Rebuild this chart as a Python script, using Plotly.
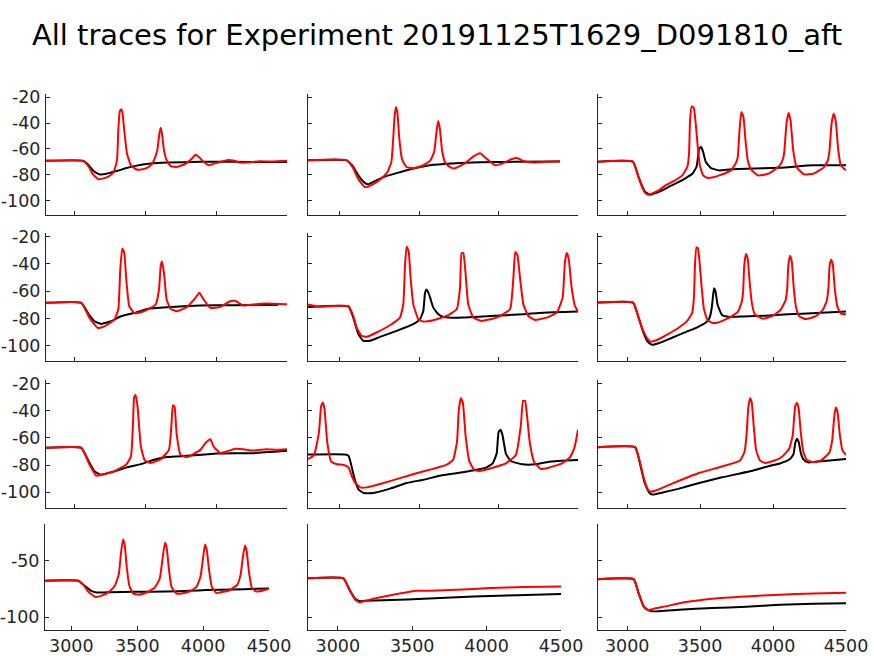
import plotly.graph_objects as go

TITLE = "All traces for Experiment 20191125T1629_D091810_aft"
X_TICKS = [3000, 3500, 4000, 4500]
X_TICK_TEXT = ["3000", "3500", "4000", "4500"]
Y_TICKS_MAIN = [-100, -80, -60, -40, -20]
Y_TICK_TEXT_MAIN = ["-100", "-80", "-60", "-40", "-20"]
Y_TICKS_LAST = [-100, -50]
Y_TICK_TEXT_LAST = ["-100", "-50"]
X_RANGE = [2800, 4500]
Y_RANGE = [-111.2, -17.4]

# ---------------- data (time ms, membrane potential mV) ----------------
r1c1_black_t = [2800, 3060, 3100, 3140, 3180, 3220, 3260, 3306, 3360, 3422, 3539, 3655, 3889, 4122, 4300, 4500]
r1c1_black_v = [-69.2, -69.2, -72.5, -77.5, -79.8, -79.5, -78.2, -76.9, -75.0, -73.3, -71.3, -70.5, -70.0, -70.0, -70.2, -70.2]
r1c1_red_t = [2800, 3060, 3100, 3130, 3168, 3200, 3236, 3270, 3282, 3301, 3310, 3320, 3329, 3338, 3352, 3371, 3399, 3434, 3469, 3516, 3545, 3562, 3585, 3600, 3609, 3618, 3632, 3651, 3679, 3725, 3784, 3830, 3854, 3877, 3912, 3947, 4005, 4075, 4122, 4168, 4220, 4309, 4400, 4500]
r1c1_red_v = [-69.2, -69.2, -73.5, -79.5, -83.4, -83.0, -81.6, -79.0, -76.4, -68.7, -45.4, -31.1, -29.3, -31.1, -45.4, -63.5, -72.6, -75.7, -76.0, -74.5, -72.0, -68.7, -60.9, -48.0, -43.6, -48.0, -60.9, -68.7, -73.3, -73.9, -71.5, -67.4, -64.5, -66.0, -70.0, -72.6, -70.8, -68.7, -69.0, -70.5, -70.5, -69.5, -69.8, -69.2]

r1c2_black_t = [2800, 3040, 3080, 3120, 3160, 3178, 3220, 3280, 3379, 3470, 3568, 3700, 3883, 4100, 4387]
r1c2_black_v = [-68.7, -68.7, -73.0, -81.0, -86.5, -87.4, -85.0, -81.5, -78.0, -75.0, -72.6, -71.2, -70.3, -70.0, -69.8]
r1c2_red_t = [2800, 3040, 3080, 3120, 3159, 3200, 3260, 3300, 3325, 3335, 3345, 3354, 3363, 3375, 3392, 3420, 3461, 3520, 3570, 3595, 3608, 3619, 3630, 3645, 3665, 3700, 3726, 3790, 3840, 3883, 3920, 3978, 4030, 4080, 4116, 4160, 4220, 4300, 4387]
r1c2_red_v = [-68.7, -68.7, -74.0, -84.0, -89.6, -88.0, -83.0, -78.0, -70.0, -55.0, -35.0, -27.5, -32.0, -52.0, -68.0, -74.0, -75.0, -73.0, -69.0, -62.0, -48.0, -38.4, -44.0, -62.0, -71.0, -74.5, -75.0, -71.0, -66.0, -63.3, -67.0, -72.6, -71.0, -68.0, -67.0, -69.5, -70.5, -70.0, -69.5]

r1c3_black_t = [2800, 3039, 3078, 3100, 3124, 3159, 3200, 3240, 3300, 3355, 3410, 3447, 3475, 3486, 3493, 3507, 3521, 3539, 3574, 3631, 3700, 3816, 4046, 4276, 4500]
r1c3_black_v = [-69.9, -69.9, -81.8, -88.0, -93.4, -95.5, -94.0, -92.0, -88.5, -85.6, -82.0, -79.2, -74.0, -66.0, -59.8, -58.5, -62.4, -70.1, -74.8, -76.6, -76.0, -75.3, -74.5, -72.7, -72.7]
r1c3_red_t = [2800, 3039, 3078, 3100, 3124, 3147, 3180, 3217, 3260, 3309, 3378, 3412, 3424, 3431, 3442, 3456, 3470, 3484, 3498, 3521, 3551, 3590, 3631, 3712, 3745, 3758, 3770, 3783, 3797, 3811, 3827, 3850, 3896, 3940, 3977, 4046, 4070, 4078, 4092, 4106, 4120, 4138, 4161, 4212, 4276, 4346, 4375, 4387, 4401, 4415, 4429, 4447, 4465, 4500]
r1c3_red_v = [-69.9, -69.9, -81.8, -89.0, -94.2, -95.5, -94.0, -92.1, -88.5, -85.6, -80.5, -74.0, -63.7, -37.8, -27.0, -28.0, -40.4, -58.5, -72.7, -80.5, -82.5, -82.0, -80.5, -76.6, -71.0, -66.3, -45.6, -31.4, -35.2, -53.3, -68.8, -76.1, -80.5, -80.0, -78.7, -72.7, -67.0, -61.1, -40.4, -32.1, -37.8, -61.1, -74.0, -79.7, -79.2, -74.5, -69.0, -61.1, -40.4, -32.7, -37.8, -61.1, -72.7, -76.6]

r2c1_black_t = [2800, 3049, 3096, 3142, 3189, 3259, 3329, 3422, 3516, 3655, 3889, 4122, 4437]
r2c1_black_v = [-68.6, -68.6, -76.0, -82.1, -84.0, -82.1, -78.4, -76.0, -73.0, -71.8, -70.6, -70.3, -70.1]
r2c1_red_t = [2800, 3049, 3107, 3166, 3212, 3282, 3310, 3324, 3338, 3352, 3366, 3387, 3422, 3469, 3516, 3574, 3597, 3609, 3618, 3632, 3651, 3679, 3725, 3795, 3854, 3882, 3912, 3959, 4029, 4099, 4134, 4192, 4262, 4355, 4500]
r2c1_red_v = [-68.6, -68.6, -79.6, -87.0, -85.8, -80.9, -73.5, -44.0, -28.8, -31.8, -51.4, -71.0, -76.0, -75.5, -73.5, -69.8, -58.8, -41.6, -38.2, -46.5, -66.1, -73.0, -74.7, -71.5, -64.9, -61.2, -66.1, -72.3, -71.5, -67.4, -67.1, -70.6, -69.8, -69.1, -69.6]

r2c2_black_t = [2800, 3054, 3085, 3117, 3148, 3190, 3253, 3358, 3463, 3505, 3526, 3537, 3547, 3564, 3589, 3621, 3652, 3778, 3946, 4156, 4282, 4500]
r2c2_black_v = [-71.6, -71.2, -79.4, -91.5, -96.4, -96.4, -93.5, -89.1, -84.2, -80.6, -74.5, -61.2, -58.8, -62.9, -72.1, -77.0, -78.9, -79.4, -78.2, -77.0, -75.8, -75.0]
r2c2_red_t = [2800, 2875, 2950, 3054, 3085, 3106, 3138, 3169, 3232, 3316, 3379, 3400, 3411, 3421, 3434, 3446, 3463, 3495, 3526, 3589, 3673, 3736, 3757, 3767, 3778, 3791, 3809, 3841, 3893, 3988, 4072, 4093, 4105, 4118, 4135, 4156, 4187, 4229, 4303, 4366, 4403, 4418, 4429, 4441, 4460, 4481, 4500]
r2c2_red_v = [-69.7, -71.4, -71.0, -71.0, -78.2, -86.7, -92.7, -93.5, -90.3, -85.0, -79.4, -69.7, -40.6, -27.3, -30.9, -50.3, -69.7, -80.6, -82.3, -81.3, -78.2, -73.3, -57.6, -32.1, -32.1, -45.5, -69.7, -79.4, -81.8, -79.4, -73.3, -50.3, -31.4, -33.3, -50.3, -69.7, -78.2, -81.1, -79.4, -75.8, -64.8, -38.2, -32.1, -35.8, -57.6, -70.9, -75.0]

r2c3_black_t = [2800, 3040, 3080, 3110, 3140, 3170, 3220, 3300, 3400, 3480, 3540, 3565, 3580, 3590, 3596, 3605, 3620, 3650, 3700, 3800, 3950, 4100, 4300, 4500]
r2c3_black_v = [-68.4, -68.4, -80.0, -90.0, -97.0, -99.3, -98.0, -94.5, -90.0, -86.5, -83.0, -79.5, -72.0, -62.0, -57.9, -60.0, -70.0, -77.5, -79.0, -78.5, -78.0, -77.0, -76.0, -75.0]
r2c3_red_t = [2800, 3040, 3080, 3110, 3140, 3163, 3200, 3280, 3350, 3410, 3445, 3458, 3465, 3475, 3485, 3498, 3512, 3526, 3550, 3585, 3622, 3700, 3760, 3785, 3795, 3802, 3814, 3826, 3840, 3855, 3875, 3931, 3990, 4050, 4085, 4097, 4104, 4116, 4128, 4142, 4158, 4180, 4226, 4290, 4340, 4368, 4380, 4387, 4397, 4409, 4423, 4440, 4465, 4500]
r2c3_red_v = [-68.4, -68.4, -80.0, -89.0, -95.0, -97.0, -96.0, -91.5, -87.0, -82.0, -76.0, -64.0, -40.0, -28.0, -28.5, -41.0, -59.0, -73.0, -81.0, -83.3, -83.0, -79.5, -75.0, -68.0, -60.0, -42.0, -32.7, -36.0, -54.0, -69.0, -77.0, -80.2, -78.5, -74.0, -67.0, -58.0, -42.0, -34.1, -38.0, -58.0, -72.0, -78.5, -80.5, -78.5, -74.0, -67.0, -57.0, -42.0, -37.0, -40.0, -58.0, -71.0, -76.5, -77.0]

r3c1_black_t = [2800, 3049, 3096, 3142, 3189, 3282, 3376, 3469, 3562, 3655, 3795, 4005, 4122, 4262, 4500]
r3c1_black_v = [-67.3, -67.3, -76.1, -84.6, -87.1, -84.6, -81.5, -79.3, -76.1, -74.1, -73.2, -71.5, -71.2, -71.2, -69.5]
r3c1_red_t = [2800, 3049, 3107, 3154, 3189, 3282, 3364, 3399, 3413, 3422, 3432, 3446, 3469, 3497, 3539, 3609, 3667, 3684, 3695, 3707, 3721, 3749, 3795, 3889, 3924, 3959, 3982, 4029, 4075, 4134, 4192, 4262, 4355, 4425, 4500]
r3c1_red_v = [-67.3, -67.3, -79.8, -87.8, -87.1, -84.6, -79.8, -73.7, -51.7, -29.8, -28.5, -37.1, -66.3, -76.6, -78.5, -75.6, -68.8, -51.7, -35.9, -37.1, -56.6, -72.4, -74.1, -68.8, -63.9, -61.0, -66.3, -71.2, -70.0, -68.0, -68.3, -69.3, -68.3, -68.8, -68.3]

r3c2_black_t = [2800, 3035, 3056, 3077, 3098, 3119, 3150, 3212, 3317, 3421, 3525, 3629, 3733, 3838, 3921, 3963, 3988, 4000, 4013, 4025, 4046, 4077, 4150, 4233, 4317, 4500]
r3c2_black_v = [-72.2, -72.2, -73.2, -82.3, -92.0, -98.1, -100.5, -100.5, -97.3, -93.2, -90.8, -87.9, -86.0, -84.0, -81.9, -78.7, -71.5, -55.7, -54.0, -58.1, -71.5, -77.0, -79.4, -79.4, -77.5, -76.3]
r3c2_red_t = [2800, 2838, 2869, 2883, 2894, 2904, 2921, 2946, 2983, 3025, 3056, 3077, 3098, 3129, 3171, 3275, 3379, 3483, 3588, 3671, 3713, 3738, 3750, 3763, 3775, 3792, 3817, 3848, 3879, 3963, 4046, 4108, 4140, 4154, 4167, 4179, 4196, 4223, 4265, 4317, 4400, 4452, 4479, 4500]
r3c2_red_v = [-75.6, -72.7, -55.7, -36.4, -34.0, -38.8, -63.0, -77.5, -79.4, -79.9, -81.9, -88.4, -93.2, -96.4, -96.4, -93.2, -89.6, -86.0, -82.8, -79.9, -76.3, -63.0, -38.8, -30.8, -34.0, -58.1, -77.5, -83.6, -84.3, -81.9, -78.7, -72.7, -50.9, -32.7, -32.7, -43.6, -63.0, -77.5, -82.8, -81.9, -78.7, -73.9, -66.6, -54.0]

r3c3_black_t = [2800, 3054, 3090, 3120, 3150, 3170, 3250, 3350, 3487, 3650, 3842, 3980, 4047, 4116, 4140, 4152, 4164, 4176, 4190, 4210, 4240, 4350, 4500]
r3c3_black_v = [-66.8, -66.8, -80.0, -93.0, -100.0, -101.7, -100.0, -97.5, -93.3, -89.0, -84.6, -80.5, -78.8, -75.5, -72.0, -64.0, -60.6, -63.0, -71.0, -76.0, -78.0, -77.0, -75.5]
r3c3_red_t = [2800, 3054, 3090, 3120, 3145, 3160, 3200, 3300, 3487, 3650, 3774, 3805, 3818, 3830, 3842, 3854, 3868, 3884, 3910, 3945, 4000, 4060, 4110, 4135, 4145, 4153, 4164, 4175, 4190, 4207, 4230, 4267, 4330, 4385, 4405, 4415, 4422, 4431, 4442, 4458, 4475, 4500]
r3c3_red_v = [-66.8, -66.8, -79.0, -92.0, -98.5, -99.6, -98.5, -94.0, -86.0, -81.0, -76.6, -70.0, -58.0, -38.0, -30.8, -34.0, -52.0, -69.0, -76.5, -78.4, -77.0, -74.0, -68.0, -58.0, -44.0, -36.0, -34.4, -38.0, -56.0, -70.0, -76.0, -77.7, -76.5, -71.0, -62.0, -50.0, -42.0, -37.6, -41.0, -58.0, -69.0, -72.6]

r4c1_black_t = [2800, 3053, 3100, 3150, 3192, 3300, 3470, 3722, 3900, 4025, 4227, 4400, 4500]
r4c1_black_v = [-67.6, -67.6, -72.0, -76.5, -78.0, -77.8, -77.4, -77.1, -76.5, -75.9, -75.3, -74.8, -74.4]
r4c1_red_t = [2800, 3053, 3090, 3130, 3179, 3230, 3290, 3330, 3360, 3375, 3392, 3405, 3420, 3440, 3470, 3508, 3570, 3630, 3670, 3690, 3710, 3723, 3740, 3760, 3800, 3836, 3900, 3950, 3980, 3997, 4014, 4027, 4045, 4066, 4100, 4126, 4200, 4260, 4285, 4300, 4317, 4330, 4348, 4370, 4400, 4450, 4500]
r4c1_red_v = [-67.6, -67.6, -71.0, -77.5, -81.8, -80.8, -77.0, -72.0, -62.0, -45.0, -31.2, -36.0, -55.0, -72.0, -79.0, -80.0, -78.0, -74.0, -66.0, -50.0, -33.9, -38.0, -57.0, -73.0, -79.0, -78.8, -77.0, -73.0, -64.0, -50.0, -35.6, -40.0, -58.0, -73.0, -78.5, -78.0, -76.0, -71.0, -62.0, -48.0, -36.5, -41.0, -60.0, -74.0, -77.0, -76.5, -74.4]

r4c2_black_t = [2800, 3038, 3083, 3117, 3150, 3184, 3250, 3464, 3688, 3913, 4137, 4500]
r4c2_black_v = [-65.5, -65.5, -76.5, -83.5, -85.8, -85.3, -85.0, -84.1, -82.9, -81.5, -80.6, -79.4]
r4c2_red_t = [2800, 3038, 3083, 3117, 3150, 3184, 3262, 3397, 3527, 3621, 3800, 4025, 4249, 4500]
r4c2_red_v = [-65.5, -65.5, -77.0, -84.4, -86.8, -85.5, -82.9, -79.4, -76.5, -76.5, -75.6, -74.1, -73.2, -72.6]

r4c3_black_t = [2800, 3044, 3078, 3113, 3143, 3171, 3355, 3585, 3816, 4046, 4276, 4500]
r4c3_black_v = [-66.2, -66.2, -78.5, -90.3, -93.5, -94.7, -93.2, -91.8, -90.6, -88.8, -87.9, -87.6]
r4c3_red_t = [2800, 3044, 3078, 3113, 3143, 3180, 3263, 3401, 3585, 3816, 4046, 4276, 4500]
r4c3_red_v = [-66.2, -66.2, -78.5, -90.3, -93.8, -92.5, -90.3, -86.5, -83.5, -81.5, -80.0, -78.8, -78.2]

panels = [
    [(r1c1_black_t, r1c1_black_v, r1c1_red_t, r1c1_red_v),
     (r1c2_black_t, r1c2_black_v, r1c2_red_t, r1c2_red_v),
     (r1c3_black_t, r1c3_black_v, r1c3_red_t, r1c3_red_v)],
    [(r2c1_black_t, r2c1_black_v, r2c1_red_t, r2c1_red_v),
     (r2c2_black_t, r2c2_black_v, r2c2_red_t, r2c2_red_v),
     (r2c3_black_t, r2c3_black_v, r2c3_red_t, r2c3_red_v)],
    [(r3c1_black_t, r3c1_black_v, r3c1_red_t, r3c1_red_v),
     (r3c2_black_t, r3c2_black_v, r3c2_red_t, r3c2_red_v),
     (r3c3_black_t, r3c3_black_v, r3c3_red_t, r3c3_red_v)],
    [(r4c1_black_t, r4c1_black_v, r4c1_red_t, r4c1_red_v),
     (r4c2_black_t, r4c2_black_v, r4c2_red_t, r4c2_red_v),
     (r4c3_black_t, r4c3_black_v, r4c3_red_t, r4c3_red_v)],
]

# ---------------- layout geometry (pixels) ----------------
W, H = 874, 656
ROW_PX = [(94, 215), (233, 361), (380, 507.5), (524, 630)]
COL_PX = [(46, 287), (308, 578), (598, 846)]
COL_PX_LAST = [(45, 269), (308, 561), (598, 846)]

AX_COLOR = "#262626"
FONT = "DejaVu Sans"
TICK_FONT = dict(family=FONT, size=17.5, color=AX_COLOR)

fig = go.Figure()
layout = dict(
    width=W, height=H, autosize=False,
    margin=dict(l=0, r=0, t=0, b=0, pad=0, autoexpand=False),
    paper_bgcolor="white", plot_bgcolor="white",
    showlegend=False,
    font=dict(family=FONT, size=17.5, color=AX_COLOR),
    title=dict(text=TITLE, x=0.5, xanchor="center", y=1 - 35 / H, yanchor="middle",
               yref="container", automargin=False,
               font=dict(family=FONT, size=29, color="black")),
)

idx = 0
for r in range(4):
    for c in range(3):
        idx += 1
        sfx = "" if idx == 1 else str(idx)
        bt, bv, rt, rv = panels[r][c]
        fig.add_trace(go.Scatter(x=bt, y=bv, mode="lines", xaxis="x" + sfx, yaxis="y" + sfx,
                                 line=dict(color="black", width=2, shape="spline", smoothing=0.4),
                                 hoverinfo="skip"))
        fig.add_trace(go.Scatter(x=rt, y=rv, mode="lines", xaxis="x" + sfx, yaxis="y" + sfx,
                                 line=dict(color="red", width=2, shape="spline", smoothing=0.4),
                                 hoverinfo="skip"))
        cx = COL_PX_LAST[c] if r == 3 else COL_PX[c]
        ry = ROW_PX[r]
        last_row = r == 3
        layout["xaxis" + sfx] = dict(
            domain=[cx[0] / W, cx[1] / W], anchor="y" + sfx, range=X_RANGE,
            showline=True, linecolor=AX_COLOR, linewidth=1, mirror=False,
            ticks="inside", ticklen=4, tickcolor=AX_COLOR, tickwidth=1,
            tickvals=X_TICKS, ticktext=X_TICK_TEXT, showticklabels=last_row,
            ticklabelstandoff=0,
            showgrid=False, zeroline=False, fixedrange=True, automargin=False,
            tickfont=TICK_FONT,
        )
        layout["yaxis" + sfx] = dict(
            domain=[1 - ry[1] / H, 1 - ry[0] / H], anchor="x" + sfx, range=Y_RANGE,
            showline=True, linecolor=AX_COLOR, linewidth=1, mirror=False,
            ticks="inside", ticklen=4, tickcolor=AX_COLOR, tickwidth=1,
            tickvals=Y_TICKS_LAST if last_row else Y_TICKS_MAIN,
            ticktext=Y_TICK_TEXT_LAST if last_row else Y_TICK_TEXT_MAIN,
            showticklabels=(c == 0), ticklabelstandoff=1,
            showgrid=False, zeroline=False, fixedrange=True, automargin=False,
            tickfont=TICK_FONT,
        )

fig.update_layout(**layout)
fig.write_html(
    "out.html",
    config={"responsive": False, "displayModeBar": False},
    post_script="document.body.style.margin='0';document.body.style.overflow='hidden';",
)
